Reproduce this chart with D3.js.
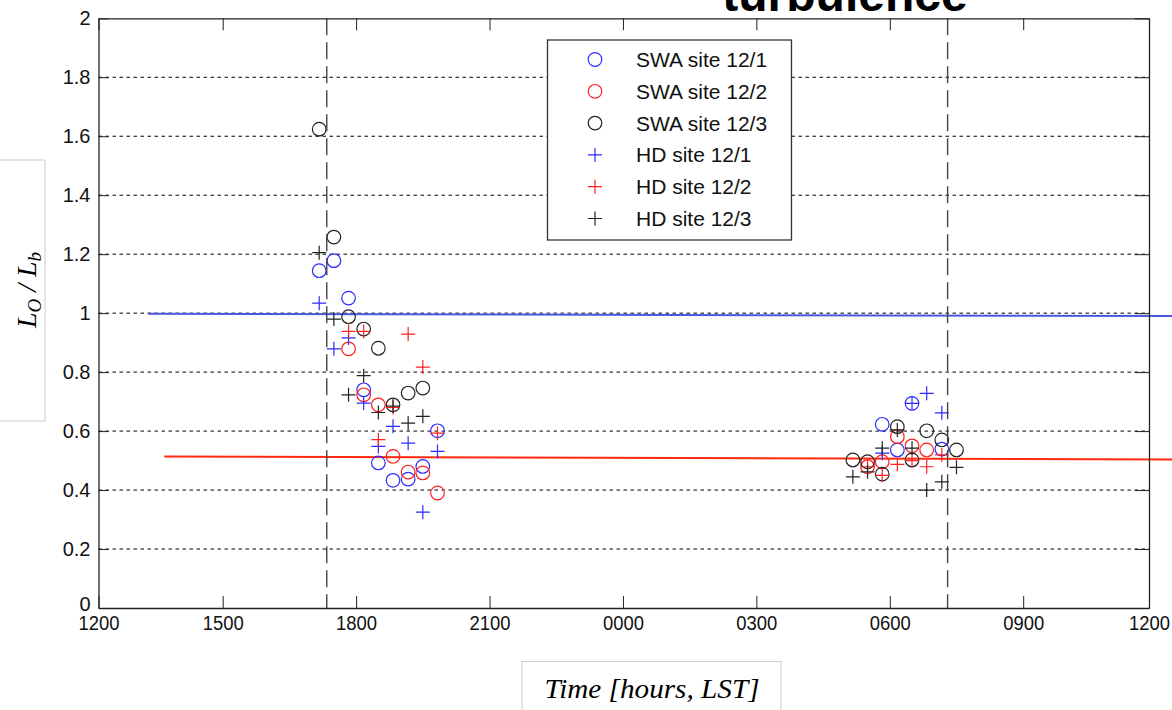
<!DOCTYPE html>
<html>
<head>
<meta charset="utf-8">
<script src="https://cdn.jsdelivr.net/npm/d3@7"></script>
<style>
  body { margin: 0; background: #fff; }
  svg { display: block; font-family: "Liberation Sans", Arial, sans-serif; }
</style>
</head>
<body>
<div id="chart"></div>
<script>
// tick hours on the time axis (12 = noon of first day, 36 = noon next day)
const tickHours = [12, 15, 18, 21, 24, 27, 30, 33, 36];
const tickLabels = ["1200", "1500", "1800", "2100", "0000", "0300", "0600", "0900", "1200"];
const yTicks = [0, 0.2, 0.4, 0.6, 0.8, 1, 1.2, 1.4, 1.6, 1.8, 2];

// evening cluster
const leftTimes = [17.17, 17.5, 17.83, 18.17, 18.5, 18.83, 19.17, 19.5, 19.83];
const swa1Left = [1.144, 1.178, 1.051, 0.740, 0.492, 0.433, 0.437, 0.480, 0.601];
const swa2Left = [null, null, 0.879, 0.723, 0.689, 0.514, 0.461, 0.458, 0.390];
const swa3Left = [1.624, 1.258, 0.988, 0.946, 0.881, 0.689, 0.729, 0.746, null];
const hd1Left = [1.034, 0.879, 0.916, 0.695, 0.548, 0.616, 0.559, 0.325, 0.531];
const hd2Left = [null, null, 0.938, 0.938, 0.571, 0.680, 0.929, 0.817, 0.593];
const hd3Left = [1.205, 0.980, 0.723, 0.788, 0.663, 0.685, 0.627, 0.650, null];

// morning cluster
const rightTimes = [29.17, 29.5, 29.83, 30.17, 30.5, 30.83, 31.17, 31.5];
const swa1Right = [null, null, 0.623, 0.536, 0.694, null, 0.539, null];
const swa2Right = [null, 0.479, 0.496, 0.581, 0.550, 0.536, null, null];
const swa3Right = [0.502, 0.496, 0.454, 0.615, 0.502, 0.601, 0.570, 0.536];
const hd1Right = [null, null, 0.525, null, 0.694, 0.728, 0.662, null];
const hd2Right = [null, 0.479, 0.450, 0.487, 0.500, 0.479, 0.519, null];
const hd3Right = [0.445, 0.462, 0.542, 0.604, 0.542, 0.400, 0.428, 0.477];

// sunset / sunrise markers
const transitionHours = [17.34, 31.30];

// fitted lines
const blueFit = [[13.2, 0.998], [36.6, 0.990]];
const redFit = [[13.59, 0.514], [36.6, 0.504]];

const legendNames = ["SWA site 12/1", "SWA site 12/2", "SWA site 12/3",
                     "HD site 12/1", "HD site 12/2", "HD site 12/3"];

const series = [
  { name: legendNames[0], shape: "circle", color: "#2b2bff", left: swa1Left, right: swa1Right },
  { name: legendNames[1], shape: "circle", color: "#ff2020", left: swa2Left, right: swa2Right },
  { name: legendNames[2], shape: "circle", color: "#222", left: swa3Left, right: swa3Right },
  { name: legendNames[3], shape: "plus", color: "#2b2bff", left: hd1Left, right: hd1Right },
  { name: legendNames[4], shape: "plus", color: "#ff2020", left: hd2Left, right: hd2Right },
  { name: legendNames[5], shape: "plus", color: "#222", left: hd3Left, right: hd3Right }
];

const W = 1172, H = 710;
const svg = d3.select("#chart").append("svg").attr("width", W).attr("height", H);

const x = d3.scaleLinear()
  .domain([12, 15, 33, 36])
  .range([98.5, 222.7, 1023.2, 1149]);
const y = d3.scaleLinear().domain([0, 2]).range([608, 18.3]);

const xl = 98.5, xr = 1149, yt = y(2), yb = y(0);

// title (cut by top of picture)
svg.append("text")
  .attr("x", 845).attr("y", 11)
  .attr("text-anchor", "middle")
  .style("font-size", "48px")
  .style("font-weight", "bold")
  .text("turbulence");

// horizontal dotted grid
svg.selectAll("line.hgrid")
  .data(yTicks.slice(1, -1))
  .enter().append("line")
  .attr("class", "hgrid")
  .attr("x1", xl).attr("x2", xr)
  .attr("y1", d => y(d)).attr("y2", d => y(d))
  .style("stroke", "#000")
  .style("stroke-dasharray", "3.5,3.5")
  .style("stroke-width", 1);

// fit lines
const fitLine = d3.line().x(d => x(d[0])).y(d => y(d[1]));
svg.append("path").datum(blueFit)
  .attr("d", fitLine).attr("fill", "none")
  .attr("stroke", "#4a58e0").attr("stroke-width", 2);
svg.append("path").datum(redFit)
  .attr("d", fitLine).attr("fill", "none")
  .attr("stroke", "#ff2a10").attr("stroke-width", 2);

// markers
function drawMarker(g, shape, color, cx, cy) {
  if (shape === "circle") {
    g.append("circle")
      .attr("cx", cx).attr("cy", cy).attr("r", 6.8)
      .attr("fill", "none").attr("stroke", color).attr("stroke-width", 1.2);
  } else {
    g.append("path")
      .attr("d", `M${cx - 7},${cy}H${cx + 7}M${cx},${cy - 7}V${cy + 7}`)
      .attr("fill", "none").attr("stroke", color).attr("stroke-width", 1.2);
  }
}

const marks = svg.append("g");
series.forEach(s => {
  leftTimes.forEach((t, i) => {
    if (s.left[i] != null) drawMarker(marks, s.shape, s.color, x(t), y(s.left[i]));
  });
  rightTimes.forEach((t, i) => {
    if (s.right[i] != null) drawMarker(marks, s.shape, s.color, x(t), y(s.right[i]));
  });
});

// dashed vertical lines
svg.selectAll("line.vdash")
  .data(transitionHours)
  .enter().append("line")
  .attr("class", "vdash")
  .attr("x1", d => x(d)).attr("x2", d => x(d))
  .attr("y1", yt).attr("y2", yb)
  .style("stroke", "#444")
  .style("stroke-dasharray", "17,7")
  .style("stroke-width", 1.4);

// axes
const xAxis = d3.axisBottom(x).tickValues(tickHours)
  .tickFormat((d, i) => tickLabels[i])
  .tickSizeInner(-12).tickSizeOuter(0).tickPadding(8);
const gx = svg.append("g").attr("transform", `translate(0,${yb})`).call(xAxis);
gx.selectAll("text")
  .style("font-size", "20px").style("fill", "#111")
  .attr("textLength", 41).attr("lengthAdjust", "spacingAndGlyphs");

const xTop = d3.axisTop(x).tickValues(tickHours).tickFormat("")
  .tickSizeInner(-12).tickSizeOuter(0);
svg.append("g").attr("transform", `translate(0,${yt})`).call(xTop);

const yAxis = d3.axisLeft(y).tickValues(yTicks)
  .tickFormat(d => d3.format("")(d))
  .tickSizeInner(-10).tickSizeOuter(0).tickPadding(8);
const gy = svg.append("g").attr("transform", `translate(${xl},0)`).call(yAxis);
gy.selectAll("text").style("font-size", "20px").style("fill", "#111");
// the "0" label sits a little higher so it clears the time labels
gy.selectAll("text").filter(d => d === 0).attr("dy", "0.1em");

const yRight = d3.axisRight(y).tickValues(yTicks).tickFormat("")
  .tickSizeInner(-14).tickSizeOuter(0);
svg.append("g").attr("transform", `translate(${xr},0)`).call(yRight);

svg.selectAll(".domain").attr("stroke", "#222").attr("stroke-width", 1.3);
svg.selectAll(".tick line").attr("stroke", "#222");

// legend
const legend = svg.append("g");
legend.append("rect")
  .attr("x", 547.5).attr("y", 40)
  .attr("width", 244).attr("height", 200)
  .attr("fill", "#fff").attr("stroke", "#333").attr("stroke-width", 1.3);
series.forEach((s, i) => {
  const ly = 59.5 + i * 31.8;
  drawMarker(legend, s.shape, s.color, 595, ly);
  legend.append("text")
    .attr("x", 636).attr("y", ly + 7.5)
    .style("font-size", "21px").style("fill", "#111")
    .text(s.name);
});

// y label box
svg.append("rect")
  .attr("x", -2).attr("y", 160).attr("width", 47).attr("height", 261)
  .attr("fill", "none").attr("stroke", "#ccc").attr("stroke-width", 1);
const ylab = svg.append("text")
  .attr("transform", "translate(36,290) rotate(-90)")
  .attr("text-anchor", "middle")
  .style("font-family", "'Liberation Serif', 'DejaVu Serif', serif")
  .style("font-style", "italic")
  .style("font-size", "28px");
ylab.append("tspan").text("L");
ylab.append("tspan").attr("dy", 5).style("font-size", "19px").text("O");
ylab.append("tspan").attr("dy", -5).text(" / L");
ylab.append("tspan").attr("dy", 5).style("font-size", "19px").text("b");

// x label box
svg.append("rect")
  .attr("x", 522).attr("y", 661.5).attr("width", 259).attr("height", 60)
  .attr("fill", "none").attr("stroke", "#ccc").attr("stroke-width", 1);
svg.append("text")
  .attr("x", 652).attr("y", 698)
  .attr("text-anchor", "middle")
  .attr("textLength", 215).attr("lengthAdjust", "spacingAndGlyphs")
  .style("font-family", "'Liberation Serif', 'DejaVu Serif', serif")
  .style("font-style", "italic")
  .style("font-size", "28px")
  .text("Time [hours, LST]");
</script>
</body>
</html>
